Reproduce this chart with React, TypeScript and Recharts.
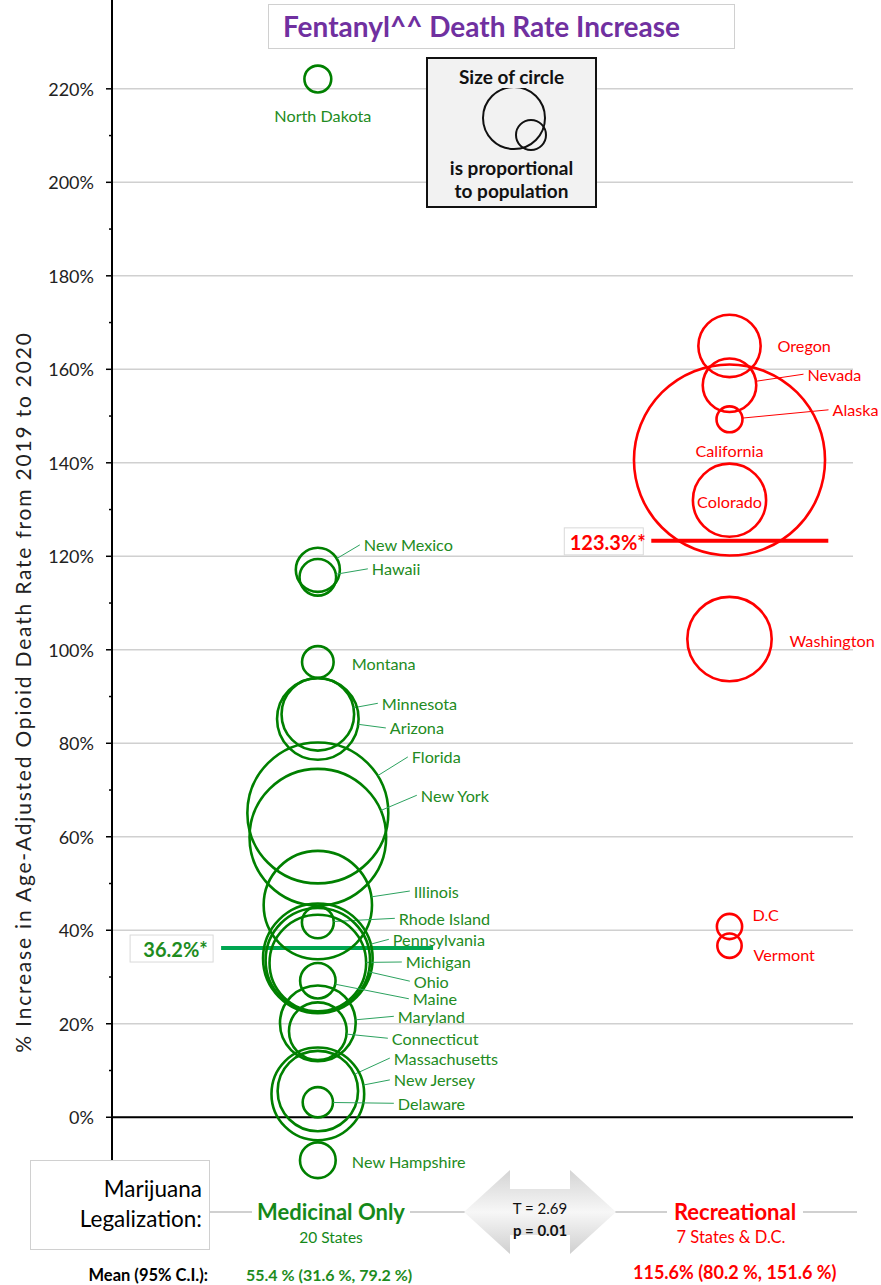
import {
  CartesianGrid,
  ReferenceLine,
  Scatter,
  ScatterChart,
  XAxis,
  YAxis,
  ZAxis,
} from 'recharts';

// medicinal-only states (x = 1)
const medStates = [
  'North Dakota', 'New Mexico', 'Hawaii', 'Montana', 'Minnesota', 'Arizona',
  'Florida', 'New York', 'Illinois', 'Rhode Island', 'Pennsylvania', 'Michigan',
  'Ohio', 'Maine', 'Maryland', 'Connecticut', 'Massachusetts', 'New Jersey',
  'Delaware', 'New Hampshire',
];
const medValues = [
  222.1, 117.1, 115.5, 97.4, 86.2, 85.2, 65.1, 59.9, 45.4, 41.7, 34.0, 33.0,
  33.6, 29.2, 20.1, 18.4, 5.6, 5.0, 3.2, -9.2,
];
const medPopulation = [
  0.78, 2.1, 1.45, 1.08, 5.7, 7.2, 21.5, 20.2, 12.7, 1.1, 13.0, 10.1, 11.8,
  1.36, 6.2, 3.6, 7.0, 9.3, 0.99, 1.38,
];

// recreational states (x = 2)
const recStates = ['Oregon', 'Nevada', 'Alaska', 'California', 'Colorado', 'Washington', 'D.C', 'Vermont'];
const recValues = [165.0, 156.6, 149.3, 140.6, 132.0, 102.3, 40.8, 36.7];
const recPopulation = [4.2, 3.1, 0.73, 39.5, 5.8, 7.7, 0.69, 0.64];

const medMedian = 36.2;
const recMedian = 123.3;

const xTicks = [0.5, 0.7, 0.9, 1.1, 1.3, 1.5, 1.7, 1.9, 2.1, 2.3];
const yTicks = [0, 10, 20, 30, 40, 50, 60, 70, 80, 90, 100, 110, 120, 130, 140, 150, 160, 170, 180, 190, 200, 210, 220];
const gridValues = [0, 20, 40, 60, 80, 100, 120, 140, 160, 180, 200, 220];

// label placement (px offsets from bubble centre), layout only
type Lbl = { dx: number; dy: number; anchor?: 'start' | 'middle'; leader?: boolean };
const medLabelPos: Lbl[] = [
  { dx: 5, dy: 36, anchor: 'middle' },
  { dx: 46, dy: -25, leader: true },
  { dx: 54, dy: -8.5, leader: true },
  { dx: 34, dy: 2 },
  { dx: 64, dy: -11, leader: true },
  { dx: 72, dy: 9, leader: true },
  { dx: 94, dy: -56, leader: true },
  { dx: 103, dy: -42, leader: true },
  { dx: 96, dy: -14, leader: true },
  { dx: 81, dy: -4, leader: true },
  { dx: 75, dy: -19, leader: true },
  { dx: 88, dy: -1, leader: true },
  { dx: 96, dy: 21, leader: true },
  { dx: 95, dy: 18, leader: true },
  { dx: 80, dy: -7, leader: true },
  { dx: 74, dy: 7, leader: true },
  { dx: 76, dy: -33, leader: true },
  { dx: 76, dy: -14, leader: true },
  { dx: 80, dy: 1, leader: true },
  { dx: 34, dy: 1 },
];
const recLabelPos: Lbl[] = [
  { dx: 48, dy: 0 },
  { dx: 78, dy: -11, leader: true },
  { dx: 103, dy: -9.5, leader: true },
  { dx: 0, dy: -9, anchor: 'middle' },
  { dx: 0, dy: 1, anchor: 'middle' },
  { dx: 60, dy: 1 },
  { dx: 23, dy: -12.5 },
  { dx: 24, dy: 8.5 },
];

const medData = medStates.map((name, i) => ({ name, idx: i, x: 1, y: medValues[i], z: medPopulation[i] }));
const recData = recStates.map((name, i) => ({ name, idx: i, x: 2, y: recValues[i], z: recPopulation[i] }));

const FONT = 'Lato, Carlito, "Open Sans", sans-serif';
const GREEN = '#008000';
const GREEN_TEXT = '#228B22';
const RED = '#FF0000';

const bubbleShape = (stroke: string, textColor: string, leaderColor: string, layout: Lbl[]) =>
  (props: any) => {
    const { cx, cy, width, payload } = props;
    const r = width / 2;
    const pos = layout[payload.idx];
    const tx = cx + pos.dx;
    const ty = cy + pos.dy;
    let leader = null;
    if (pos.leader) {
      const ex = tx - 4;
      const vx = ex - cx;
      const vy = ty - cy;
      const len = Math.sqrt(vx * vx + vy * vy) || 1;
      leader = (
        <line x1={cx + (vx / len) * r} y1={cy + (vy / len) * r} x2={ex} y2={ty} stroke={leaderColor} strokeWidth={1} />
      );
    }
    return (
      <g>
        <circle cx={cx} cy={cy} r={r} fill="none" stroke={stroke} strokeWidth={2.6} />
        {leader}
        <text x={tx} y={ty} textAnchor={pos.anchor || 'start'} dominantBaseline="central" fontSize={16.2} fill={textColor} fontFamily={FONT}>
          {payload.name}
        </text>
      </g>
    );
  };

const YTick = (props: any) => {
  const { x, y, payload } = props;
  const major = payload.value % 20 === 0;
  return (
    <g>
      <line x1={x - (major ? 6 : 3)} x2={x} y1={y} y2={y} stroke="#000" strokeWidth={1.5} />
      {major && (
        <text x={x - 18} y={y} textAnchor="end" dominantBaseline="central" fontSize={18} fill="#222" fontFamily={FONT}>
          {payload.value}%
        </text>
      )}
    </g>
  );
};

const XTick = (props: any) => {
  const { x, y, payload } = props;
  return (
    <text x={x} y={y - 25} textAnchor="middle" dominantBaseline="central" fontSize={14} fill="#fff" stroke="#c4c4c4" strokeWidth={0.8} fontFamily={FONT}>
      {payload.value.toFixed(1)}
    </text>
  );
};

const YLabel = (props: any) => {
  const { viewBox } = props;
  const x = viewBox.x + 22;
  const y = 692;
  return (
    <text x={x} y={y} transform={`rotate(-90, ${x}, ${y})`} textAnchor="middle" dominantBaseline="central" fontSize={21} letterSpacing={1.8} fill="#222" fontFamily={FONT}>
      % Increase in Age-Adjusted Opioid Death Rate from 2019 to 2020
    </text>
  );
};

const MeanTag = ({ viewBox, text, color, w }: any) => {
  if (!viewBox) return null;
  const right = viewBox.x - 8;
  const cy = viewBox.y;
  return (
    <g>
      <rect x={right - w} y={cy - 13} width={w} height={27} fill="#fff" stroke="#d9d9d9" strokeWidth={1} />
      <text x={right - w / 2 + 4} y={cy + 1} textAnchor="middle" dominantBaseline="central" fontSize={20} fontWeight="bold" fill={color} fontFamily={FONT}>
        {text}
      </text>
    </g>
  );
};

const abs = (left: number, top: number, extra: any = {}) => ({ position: 'absolute' as const, left, top, ...extra });

export default function App() {
  return (
    <div style={{ position: 'absolute', left: 0, top: 0, width: 881, height: 1285, background: '#fff', fontFamily: FONT }}>
      <ScatterChart width={881} height={1285} margin={{ top: 0, right: 28, bottom: 121, left: 0 }} style={{ fontFamily: FONT }}>
        <CartesianGrid vertical={false} horizontalValues={gridValues} stroke="#d0d0d0" strokeWidth={1.5} />
        <XAxis
          type="number"
          dataKey="x"
          domain={[0.5, 2.3]}
          ticks={xTicks}
          interval={0}
          height={0}
          axisLine={false}
          tickLine={false}
          tickSize={0}
          tickMargin={0}
          tick={<XTick />}
        />
        <YAxis
          type="number"
          dataKey="y"
          domain={[-10, 239]}
          ticks={yTicks}
          interval={0}
          width={112}
          axisLine={{ stroke: '#000', strokeWidth: 2 }}
          tickLine={false}
          tickSize={0}
          tickMargin={0}
          tick={<YTick />}
          label={{ content: <YLabel /> }}
        />
        <ZAxis type="number" dataKey="z" domain={[0, 40]} range={[0, 29032]} />
        <ReferenceLine y={0} stroke="#000" strokeWidth={2} />
        <Scatter data={medData} shape={bubbleShape(GREEN, GREEN_TEXT, '#2ca25f', medLabelPos)} isAnimationActive={false} />
        <Scatter data={recData} shape={bubbleShape(RED, RED, RED, recLabelPos)} isAnimationActive={false} />
        <ReferenceLine
          segment={[{ x: 0.765, y: medMedian }, { x: 1.28, y: medMedian }]}
          stroke="#00A651"
          strokeWidth={4}
          ifOverflow="visible"
          label={<MeanTag text={`${medMedian}%*`} color="#1E8C1E" w={83} />}
        />
        <ReferenceLine
          segment={[{ x: 1.81, y: recMedian }, { x: 2.24, y: recMedian }]}
          stroke={RED}
          strokeWidth={4}
          ifOverflow="visible"
          label={<MeanTag text={`${recMedian}%*`} color={RED} w={79} />}
        />
      </ScatterChart>

      {/* title */}
      <div style={abs(268, 4, { width: 467, height: 45, boxSizing: 'border-box', border: '1px solid #d0d0d0', background: '#fff', color: '#7030A0', fontWeight: 700, fontSize: 28, lineHeight: '42px', paddingLeft: 14, whiteSpace: 'nowrap' })}>
        Fentanyl^^ Death Rate Increase
      </div>

      {/* size legend */}
      <div style={abs(426, 57, { width: 171, height: 151, boxSizing: 'border-box', border: '2px solid #111', background: '#f2f2f2', textAlign: 'center', fontWeight: 700, fontSize: 19, color: '#111', whiteSpace: 'nowrap' })}>
        <div style={{ marginTop: 7, lineHeight: '22px' }}>Size of circle</div>
        <svg width={167} height={68} style={{ display: 'block' }}>
          <circle cx={86} cy={30} r={31} fill="none" stroke="#111" strokeWidth={2} />
          <circle cx={103} cy={47} r={15} fill="none" stroke="#111" strokeWidth={2} />
        </svg>
        <div style={{ lineHeight: '24px' }}>is proportional</div>
        <div style={{ lineHeight: '22px' }}>to population</div>
      </div>

      {/* bottom panel */}
      <div style={abs(210, 1211, { width: 647, height: 2, background: '#d0d0d0' })} />
      <div style={abs(30, 1160, { width: 180, height: 90, boxSizing: 'border-box', border: '1px solid #d0d0d0', background: '#fff', textAlign: 'right', paddingRight: 7, paddingTop: 13, fontSize: 22.5, lineHeight: '30px', color: '#000' })}>
        <div>Marijuana</div>
        <div>Legalization:</div>
      </div>

      <div style={abs(252, 1198, { width: 158, textAlign: 'center', background: '#fff', color: '#15891A', fontWeight: 700, fontSize: 22, lineHeight: '28px' })}>
        Medicinal Only
      </div>
      <div style={abs(256, 1228, { width: 150, textAlign: 'center', color: '#15891A', fontSize: 15.5, lineHeight: '18px' })}>
        20 States
      </div>

      <svg width={156} height={90} style={abs(462, 1167)}>
        <defs>
          <linearGradient id="arrowFill" x1="0" y1="0" x2="0" y2="1">
            <stop offset="0" stopColor="#d4d4d4" />
            <stop offset="0.5" stopColor="#f7f7f7" />
            <stop offset="1" stopColor="#cfcfcf" />
          </linearGradient>
        </defs>
        <path d="M2,45 L48,3 L48,22 L108,22 L108,3 L154,45 L108,87 L108,68 L48,68 L48,87 Z" fill="url(#arrowFill)" />
      </svg>
      <div style={abs(462, 1198, { width: 156, textAlign: 'center', fontSize: 15, lineHeight: '20px', color: '#111' })}>
        T = 2.69
      </div>
      <div style={abs(462, 1220, { width: 156, textAlign: 'center', fontSize: 15, fontWeight: 700, lineHeight: '20px', color: '#111' })}>
        p = 0.01
      </div>

      <div style={abs(667, 1198, { width: 136, textAlign: 'center', background: '#fff', color: RED, fontWeight: 700, fontSize: 22, lineHeight: '28px' })}>
        Recreational
      </div>
      <div style={abs(655, 1228, { width: 152, textAlign: 'center', color: RED, fontSize: 16.5, lineHeight: '18px' })}>
        7 States &amp; D.C.
      </div>

      <div style={abs(20, 1265, { width: 188, textAlign: 'right', fontSize: 16.5, fontWeight: 700, lineHeight: '20px', color: '#000', whiteSpace: 'nowrap' })}>
        Mean (95% C.I.):
      </div>
      <div style={abs(246, 1265, { fontSize: 16, fontWeight: 700, lineHeight: '20px', color: '#1E8C1E', whiteSpace: 'nowrap' })}>
        55.4 % (31.6 %, 79.2 %)
      </div>
      <div style={abs(633, 1261, { fontSize: 18, fontWeight: 700, lineHeight: '22px', color: RED, whiteSpace: 'nowrap' })}>
        115.6% (80.2 %, 151.6 %)
      </div>
    </div>
  );
}
